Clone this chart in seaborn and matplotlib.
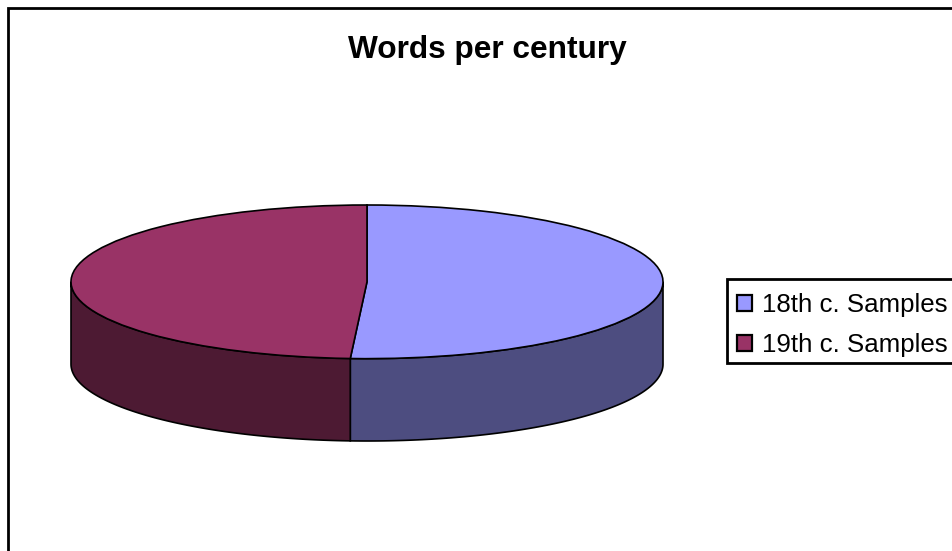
import numpy as np
import matplotlib.pyplot as plt
import seaborn as sns
from matplotlib.patches import Rectangle

# Data
labels = ["18th c. Samples", "19th c. Samples"]
shares = [50.9, 49.1]
top_colors = ["#9999FF", "#993366"]
wall_colors = ["#4D4D80", "#4D1A33"]

sns.set_theme(style="white")
plt.rcParams["font.family"] = ["Liberation Sans", "DejaVu Sans"]

W, H = 952, 551
fig = plt.figure(figsize=(W / 100, H / 100), dpi=100, facecolor="white")

# outer frame, runs off the right and bottom edges
fig.add_artist(Rectangle((8 / W, -0.05), 1.1, 1 + 0.05 - 8 / H, transform=fig.transFigure,
                         fill=False, edgecolor="black", linewidth=2))

# axes limited to the pie so radius 1 fills the flattened ellipse
depth = 82 / 76.5
ax = fig.add_axes([71 / W, 1 - 441 / H, 592 / W, 236 / H])

wedges, _ = ax.pie(shares, colors=top_colors, startangle=90, counterclock=False, radius=1,
                   wedgeprops={"edgecolor": "black", "linewidth": 1.2})
for w in wedges:
    w.set_zorder(3)
ax.set_aspect("auto")
ax.set_xlim(-1, 1)
ax.set_ylim(-1 - depth, 1)
ax.axis("off")

# front wall of the disc, split where the shares meet
split = 360 * shares[0] / sum(shares)
ranges = [(90, split), (split, 270)]
for (a, b), c in zip(ranges, wall_colors):
    t = np.radians(np.linspace(a, b, 100))
    x = np.sin(t)
    y = np.cos(t)
    ax.fill(np.r_[x, x[::-1]], np.r_[y, y[::-1] - depth], facecolor=c, edgecolor="black",
            linewidth=1.2, zorder=2, clip_on=False)

fig.text(487 / W, 1 - 50 / H, "Words per century", ha="center", va="center",
         fontsize=22.8, fontweight="bold", color="black")

# legend box drawn apart: the rows sit a little below its middle
fig.add_artist(Rectangle((727 / W, 1 - 363 / H), 0.3, 84 / H, transform=fig.transFigure,
                         facecolor="white", edgecolor="black", linewidth=2))
handles = [Rectangle((0, 0), 1, 1, facecolor=c, edgecolor="black", linewidth=1.6) for c in top_colors]
leg = fig.legend(handles, labels, loc="center left", bbox_to_anchor=(727 / W, 1 - 325 / H),
                 frameon=False, fontsize=18.6,
                 handlelength=0.55, handleheight=0.55, handletextpad=0.42, borderaxespad=0,
                 borderpad=0.4, labelspacing=0.62, labelcolor="black")

fig.savefig("out.png", dpi=100)
